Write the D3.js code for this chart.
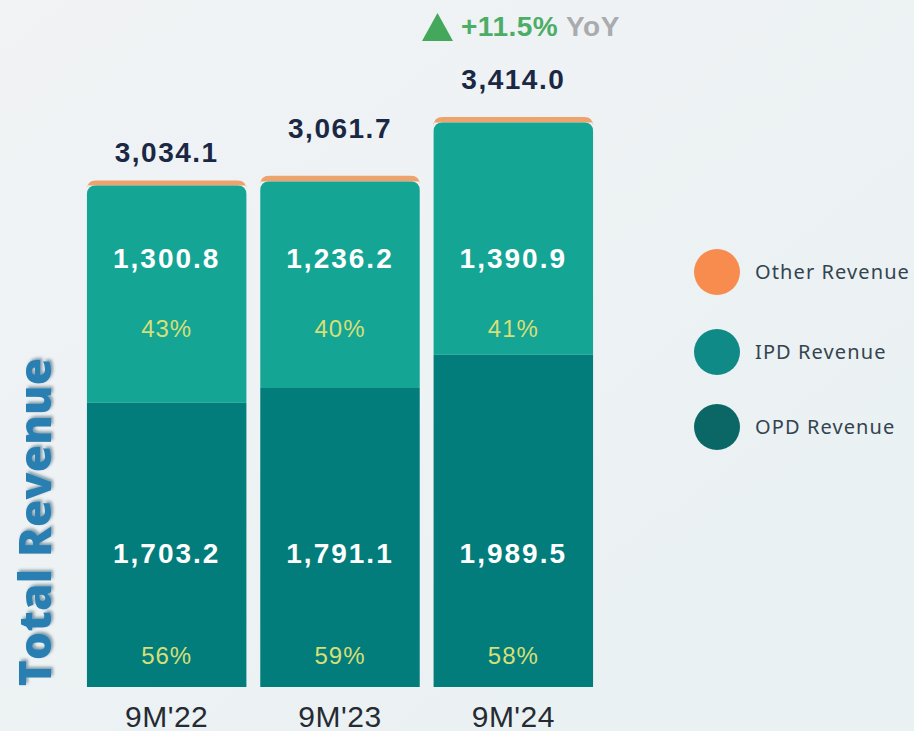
<!DOCTYPE html>
<html><head><meta charset="utf-8">
<script src="https://cdn.jsdelivr.net/npm/d3@7"></script>
<style>
html,body{margin:0;padding:0;background:#eef2f4;}
svg{display:block;}
</style></head>
<body>
<svg id="chart" width="914" height="731"></svg>
<script>
const categories = ["9M'22", "9M'23", "9M'24"];
const opdRevenue = [1703.2, 1791.1, 1989.5];
const ipdRevenue = [1300.8, 1236.2, 1390.9];
const totalRevenue = [3034.1, 3061.7, 3414.0];
const otherRevenue = totalRevenue.map((t, i) => +(t - opdRevenue[i] - ipdRevenue[i]).toFixed(1));
const opdShare = ["56%", "59%", "58%"];
const ipdShare = ["43%", "40%", "41%"];
const yoyLabel = "+11.5%";
const seriesNames = ["Other Revenue", "IPD Revenue", "OPD Revenue"];

const svg = d3.select("#chart");
const defs = svg.append("defs");
const bg = defs.append("linearGradient").attr("id","bg").attr("x1",0).attr("x2",1).attr("y1",0).attr("y2",1);
bg.append("stop").attr("offset","0%").attr("stop-color","#f1f3f5");
bg.append("stop").attr("offset","100%").attr("stop-color","#e9f1f2");
svg.append("rect").attr("width",914).attr("height",731).attr("fill","url(#bg)");
const sh = defs.append("filter").attr("id","shadow").attr("x","-20%").attr("y","-20%").attr("width","140%").attr("height","140%");
sh.append("feDropShadow").attr("dx",2).attr("dy",2).attr("stdDeviation",1.5).attr("flood-color","#0a3550").attr("flood-opacity",0.45);

const x = d3.scaleBand().domain(categories).range([80, 600]).paddingInner(0.08).paddingOuter(0.04);
const y = d3.scaleLinear().domain([0, 3414]).range([687, 117]);

const data = categories.map((c, i) => ({cat: c, opd: opdRevenue[i], ipd: ipdRevenue[i], other: otherRevenue[i], total: totalRevenue[i]}));
const stack = d3.stack().keys(["opd", "ipd", "other"])(data);
const colors = {opd: "#027d7b", ipd: "#14a595", other: "#eea26c"};

function topRounded(x0, y0, w, h, r) {
  return `M${x0},${y0 + h}V${y0 + r}Q${x0},${y0} ${x0 + r},${y0}H${x0 + w - r}Q${x0 + w},${y0} ${x0 + w},${y0 + r}V${y0 + h}Z`;
}

const g = svg.append("g");
["other", "ipd", "opd"].forEach(key => {
  const layer = stack.find(s => s.key === key);
  g.selectAll(null).data(layer).enter().append("path")
    .attr("fill", colors[key])
    .attr("d", d => {
      const x0 = x(d.data.cat), w = x.bandwidth();
      if (key === "opd") return `M${x0},${y(d[1])}H${x0 + w}V${y(d[0])}H${x0}Z`;
      const top = y(d[1]);
      return topRounded(x0, top, w, y(d[0]) - top, 9);
    });
});

const numFont = "'Liberation Sans', Arial, sans-serif";
const cx = d => x(d.cat) + x.bandwidth() / 2;
function valueLabels(yPos, textFn, opts) {
  g.selectAll(null).data(data).enter().append("text")
    .attr("x", cx).attr("y", yPos).attr("text-anchor", "middle")
    .attr("font-family", numFont).attr("font-size", opts.size).attr("font-weight", opts.weight)
    .attr("letter-spacing", opts.ls).attr("fill", opts.fill).text(textFn);
}
valueLabels(268, d => d3.format(",.1f")(d.ipd), {size: 28, weight: 700, ls: 2, fill: "#ffffff"});
valueLabels(337, (d, i) => ipdShare[i], {size: 24, weight: 400, ls: 1, fill: "#d6df78"});
valueLabels(563, d => d3.format(",.1f")(d.opd), {size: 28, weight: 700, ls: 2, fill: "#ffffff"});
valueLabels(664, (d, i) => opdShare[i], {size: 24, weight: 400, ls: 1, fill: "#d6df78"});
// totals (label gaps above each bar follow the reference)
const totalGap = [18, 38, 28];
valueLabels((d, i) => y(d.total) - totalGap[i], d => d3.format(",.1f")(d.total), {size: 28, weight: 700, ls: 1.5, fill: "#1a2844"});

// category axis
const xAxis = svg.append("g").attr("transform", "translate(0,727)").call(d3.axisBottom(x).tickSize(0).tickPadding(0));
xAxis.select(".domain").remove();
xAxis.selectAll("text").attr("font-family", numFont).attr("font-size", 30).attr("letter-spacing", 0.5)
  .attr("fill", "#262b33").attr("dy", 0);

// YoY
const yoyG = svg.append("g");
const triX = 437.5, triY = 27;
yoyG.append("path").attr("d", `M${triX - 15.5},${triY + 14}L${triX},${triY - 14}L${triX + 15.5},${triY + 14}Z`).attr("fill", "#43a85c");
const yoyText = yoyG.append("text").attr("x", 461).attr("y", 36)
  .attr("font-family", numFont).attr("font-size", 28).attr("font-weight", 700).attr("letter-spacing", 0.5);
yoyText.append("tspan").attr("fill", "#4cae66").text(yoyLabel);
yoyText.append("tspan").attr("fill", "#a9abae").text(" YoY");

// Y title
svg.append("text").attr("transform", "translate(51,522) rotate(-90)").attr("text-anchor", "middle")
  .attr("font-family", "'Open Sans', Lato, sans-serif").attr("font-size", 44).attr("font-weight", 800)
  .attr("fill", "#2a7fb2").attr("filter", "url(#shadow)").attr("letter-spacing", 0.3).text("Total Revenue");

// Legend
const legendColors = ["#f78c4e", "#0f8a86", "#0b6766"];
const legendY = [272, 352, 427];
const lg = svg.append("g");
lg.selectAll("circle").data(seriesNames).enter().append("circle")
  .attr("cx", 717).attr("cy", (d, i) => legendY[i]).attr("r", 23).attr("fill", (d, i) => legendColors[i]);
lg.selectAll("text").data(seriesNames).enter().append("text")
  .attr("x", 755).attr("y", (d, i) => legendY[i] + 7)
  .attr("font-family", "'Noto Sans', 'Open Sans', sans-serif").attr("font-size", 20).attr("letter-spacing", 1.1)
  .attr("fill", "#34444f").text(d => d);
</script>
</body></html>
